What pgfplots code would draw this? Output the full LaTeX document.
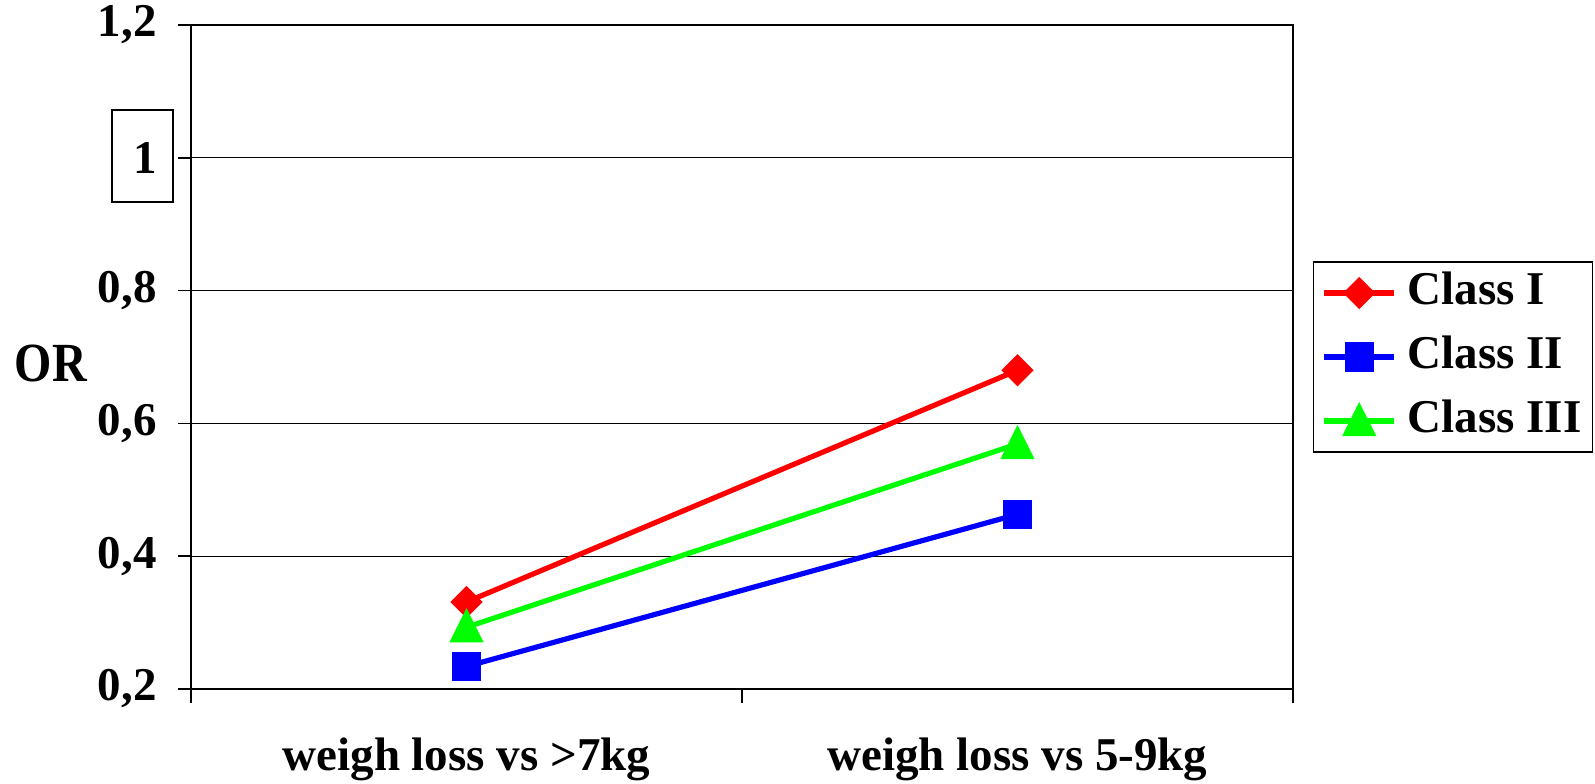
\documentclass[border=0pt]{standalone}
\usepackage{fontspec}
\setmainfont{Liberation Serif}
\usepackage{pgfplots}
\pgfplotsset{compat=1.18}
\begin{document}
\begin{tikzpicture}
\begin{axis}[
  scale only axis,
  width=551pt, height=332pt,
  xmin=0, xmax=2, ymin=0.2, ymax=1.2,
  xtick={0.5,1.5},
  xticklabels={weigh loss vs >7kg, weigh loss vs 5-9kg},
  minor xtick={0,1,2},
  ytick={0.2,0.4,0.6,0.8,1,1.2},
  ymajorgrids,
  grid style={black, line width=0.6pt},
  axis line style={line width=0.6pt},
  tick align=outside,
  tick pos=left,
  major tick length=6.5pt,
  minor tick length=7pt,
  major x tick style={draw=none},
  minor x tick style={black, line width=0.6pt},
  major y tick style={black, line width=0.8pt},
  /pgf/number format/assume math mode=true,
  /pgf/number format/.cd, use comma, fixed, precision=1,
  /pgfplots/.cd,
  ticklabel style={font=\fontsize{23.5}{28}\selectfont\bfseries},
  yticklabel style={anchor=east, inner sep=0pt, xshift=-10.5pt},
  xticklabel style={anchor=base, inner sep=0pt, yshift=-34.5pt},
  every axis y label/.style={at={(rel axis cs:0,0.4895)}, anchor=center, xshift=-70pt, font=\fontsize{24}{28}\selectfont\bfseries},
  ylabel={\scalebox{1}[1.15]{OR}},
  clip=false,
  legend style={at={(1,0.5)}, anchor=west, xshift=10pt, draw=black, line width=0.6pt,
    font=\fontsize{23.5}{28}\selectfont\bfseries,
    inner xsep=4pt, inner ysep=3pt,
    nodes={inner sep=1.5pt, text height=17pt, text depth=5pt},
    row sep=7pt,
    /tikz/every odd column/.append style={column sep=4pt}},
  legend cell align=left,
  legend image code/.code={\draw[mark repeat=2,mark phase=2,#1] plot coordinates {(0pt,0pt) (17.5pt,0pt) (35pt,0pt)};},
]
\addplot[red, line width=2.6pt, mark=square*, mark size=4.4pt, mark options={rotate=45, solid}]
  coordinates {(0.5,0.331) (1.5,0.680)};
\addlegendentry{Class I}
\addplot[blue, line width=2.6pt, mark=square*, mark size=6pt, mark options={solid}]
  coordinates {(0.5,0.234) (1.5,0.463)};
\addlegendentry{Class II}
\addplot[green, line width=2.6pt, mark=triangle*, mark size=8.6pt, mark options={solid, xscale=0.87, yshift=-2pt}]
  coordinates {(0.5,0.293) (1.5,0.569)};
\addlegendentry{Class III}
\draw[line width=1pt] (rel axis cs:0,1) -- (rel axis cs:0,0) -- (rel axis cs:1,0);
\draw[line width=0.7pt] ([xshift=-39.5pt,yshift=23.9pt]axis cs:0,1) rectangle ([xshift=-9pt,yshift=-22.1pt]axis cs:0,1);
\end{axis}
\path ([xshift=-95.5pt,yshift=-47.5pt]current axis.south west) rectangle ([xshift=151pt,yshift=12.5pt]current axis.north east);
\end{tikzpicture}
\end{document}
